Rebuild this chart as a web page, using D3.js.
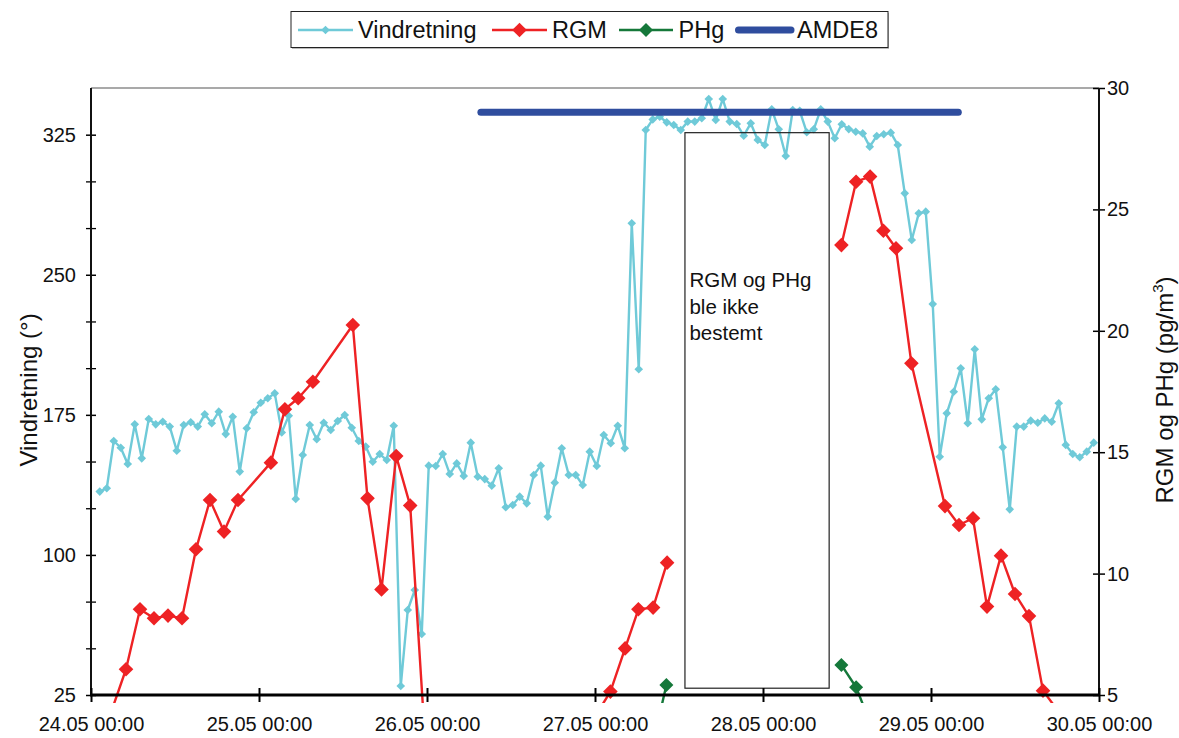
<!DOCTYPE html>
<html><head><meta charset="utf-8">
<script src="https://cdn.jsdelivr.net/npm/d3@7"></script>
<style>
body{margin:0;background:#fff;}
svg{display:block;font-family:"Liberation Sans",Arial,sans-serif;}
</style>
</head><body>
<svg id="c" width="1179" height="738"></svg>
<script>
// ---------- data ----------
const xTickHours = [0, 24, 48, 72, 96, 120, 144];
const xTickLabels = ["24.05 00:00", "25.05 00:00", "26.05 00:00", "27.05 00:00", "28.05 00:00", "29.05 00:00", "30.05 00:00"];
const leftTicks = [25, 100, 175, 250, 325];
const leftMinorTicks = [50, 75, 125, 150, 200, 225, 275, 300];
const rightTicks = [5, 10, 15, 20, 25, 30];

// Vindretning: hourly values, first one at 24.05 01:15
const vindStartHour = 1.25;
const vindValues = [
  133.9, 135.7, 161.0, 157.4, 148.7, 169.9, 151.7, 172.8, 169.9, 171.3,
  168.7, 155.8, 169.6, 171.0, 168.7, 175.3, 170.5, 176.7, 164.7, 174.0,
  144.6, 167.8, 176.4, 181.5, 183.9, 186.5, 165.6, 174.5, 130.0, 153.5,
  169.6, 161.9, 170.8, 166.9, 171.7, 174.9, 168.1, 161.0, 158.0, 149.9,
  154.0, 150.8, 169.2, 29.8, 70.5, 81.2, 57.7, 147.8, 147.6, 154.0,
  143.3, 149.0, 142.3, 160.1, 141.9, 140.6, 137.1, 146.4, 125.5, 126.7,
  131.2, 127.6, 142.8, 147.8, 120.5, 138.7, 157.1, 142.8, 142.8, 137.4,
  155.3, 147.6, 164.2, 159.8, 169.2, 157.1, 277.6, 199.4, 327.5, 333.2,
  334.6, 331.6, 330.2, 327.5, 332.0, 332.0, 333.8, 344.1, 332.9, 344.1,
  332.0, 330.7, 324.5, 331.1, 322.2, 319.5, 338.6, 327.9, 313.6, 338.2,
  337.8, 326.3, 327.9, 338.6, 332.0, 323.1, 330.6, 328.0, 326.6, 325.7,
  318.6, 324.3, 325.2, 326.1, 319.5, 293.6, 268.6, 282.9, 283.8, 234.3,
  152.6, 175.8, 187.4, 199.9, 170.5, 210.1, 172.6, 183.9, 188.7, 157.6,
  124.4, 168.7, 168.7, 171.9, 170.8, 173.1, 171.3, 181.2, 158.9, 154.0,
  152.3, 155.3, 160.1
];

// RGM (pg/m3), hours after 24.05 00:00; null = no measurement
const rgmHours = [3.0, 5.0, 7.0, 9.0, 11.0, 13.0, 15.0, 17.0, 19.0, 21.0,
  25.7, 27.7, 29.6, 31.7, 37.4, 39.5, 41.5, 43.6, 45.6, 47.6,
  60.0,
  72.2, 74.2, 76.3, 78.2, 80.3, 82.3,
  95.0,
  107.2, 109.3, 111.3, 113.2, 115.0, 117.2, 122.0, 124.0, 126.0, 128.0,
  130.0, 132.0, 134.0, 136.0, 138.0];
const rgmValues = [4.4, 6.06, 8.53, 8.16, 8.27, 8.16, 11.0, 13.03, 11.73, 13.03,
  14.57, 16.77, 17.22, 17.9, 20.24, 13.1, 9.35, 14.84, 12.8, 3.7,
  null,
  4.2, 5.14, 6.92, 8.53, 8.6, 10.45,
  null,
  23.53, 26.14, 26.35, 24.12, 23.4, 18.66, 12.78, 12.0, 12.28, 8.64,
  10.74, 9.16, 8.25, 5.18, 4.4];

// PHg (pg/m3)
const phgHours = [80.2, 82.2, 95.0, 107.2, 109.3, 111.3];
const phgValues = [2.9, 5.41, null, 6.24, 5.32, 3.86];

// AMDE8 campaign period
const amdeHours = [55.7, 123.9];
const amdeValues = [29, 29];

const seriesNames = ["Vindretning", "RGM", "PHg", "AMDE8"];
const noteLines = ["RGM og PHg", "ble ikke", "bestemt"];

// ---------- drawing ----------
const svg = d3.select("#c");
const L = 91, R = 1099, T = 88, B = 695;
const x = d3.scaleLinear([0, 144], [L, R]);
const yL = d3.scaleLinear([25, 350], [B, T]);
const yR = d3.scaleLinear([5, 30], [B, T]);

const cWind = "#6fcad8", cRgm = "#ee2224", cPhg = "#15783a", cAmde = "#2f4d9e";

svg.append("defs").append("clipPath").attr("id", "clip")
  .append("rect").attr("x", L).attr("y", T - 6).attr("width", R - L).attr("height", B - T + 14);

// top border
svg.append("line").attr("x1", L).attr("x2", R).attr("y1", T).attr("y2", T)
  .attr("stroke", "#8c8c8c").attr("stroke-width", 1.5);

const diamond = r => `M0,${-r}L${r},0L0,${r}L${-r},0Z`;

const plot = svg.append("g");

function drawSeries(hours, vals, yScale, color, lw, mr) {
  const pts = hours.map((h, i) => ({ h, v: vals[i] }));
  const line = d3.line().defined(d => d.v != null)
    .x(d => x(d.h)).y(d => yScale(d.v));
  plot.append("path").datum(pts).attr("clip-path", "url(#clip)")
    .attr("fill", "none").attr("stroke", color).attr("stroke-width", lw)
    .attr("stroke-linejoin", "round").attr("d", line);
  const [lo, hi] = yScale.domain();
  plot.append("g").selectAll("path")
    .data(pts.filter(d => d.v != null && d.v >= lo && d.v <= hi))
    .join("path")
    .attr("transform", d => `translate(${x(d.h)},${yScale(d.v)})`)
    .attr("d", diamond(mr)).attr("fill", color);
}

const vindHours = vindValues.map((v, i) => vindStartHour + i);
drawSeries(vindHours, vindValues, yL, cWind, 2.4, 4.3);
drawSeries(rgmHours, rgmValues, yR, cRgm, 2.4, 7.3);
drawSeries(phgHours, phgValues, yR, cPhg, 2.4, 7.0);

plot.append("path").datum(amdeHours.map((h, i) => ({ h, v: amdeValues[i] })))
  .attr("fill", "none").attr("stroke", cAmde).attr("stroke-width", 7)
  .attr("stroke-linecap", "round")
  .attr("d", d3.line().x(d => x(d.h)).y(d => yR(d.v)));

// annotation box
const noteX0 = x(84.85), noteX1 = x(105.45);
const noteY0 = yR(28.16), noteY1 = yR(5.28);
svg.append("rect").attr("x", noteX0).attr("y", noteY0)
  .attr("width", noteX1 - noteX0).attr("height", noteY1 - noteY0)
  .attr("fill", "none").attr("stroke", "#222").attr("stroke-width", 1.2);
svg.append("g").selectAll("text").data(noteLines).join("text")
  .attr("x", noteX0 + 4.5).attr("y", (d, i) => 287 + i * 26.5)
  .attr("font-size", 20.5).attr("fill", "#111").text(d => d);

// axes
function crossTicks(g, inner, outer) {
  g.selectAll(".tick line").attr("stroke", "#000").attr("stroke-width", 1.5);
}
// left axis
const gl = svg.append("g").attr("transform", `translate(${L},0)`);
gl.call(d3.axisLeft(yL).tickValues(leftMinorTicks).tickSize(0).tickFormat(""));
gl.selectAll(".tick line").attr("x1", -5).attr("x2", 5).attr("stroke", "#000").attr("stroke-width", 1.3);
const gl2 = svg.append("g").attr("transform", `translate(${L},0)`);
gl2.call(d3.axisLeft(yL).tickValues(leftTicks).tickSize(0).tickPadding(15));
gl2.selectAll(".tick line").attr("x1", -5).attr("x2", 5).attr("stroke", "#000").attr("stroke-width", 1.5);
gl2.selectAll(".tick text").attr("font-size", 20).attr("font-family", "Liberation Sans, Arial, sans-serif").attr("fill", "#111");
[gl, gl2].forEach(g => g.select(".domain").remove());
svg.append("line").attr("x1", L).attr("x2", L).attr("y1", T).attr("y2", B + 1)
  .attr("stroke", "#111").attr("stroke-width", 2);

// right axis
const gr = svg.append("g").attr("transform", `translate(${R},0)`);
gr.call(d3.axisRight(yR).tickValues(rightTicks).tickSize(0).tickPadding(8));
gr.select(".domain").remove();
gr.selectAll(".tick line").attr("x1", -6).attr("x2", 6).attr("stroke", "#000").attr("stroke-width", 1.5);
gr.selectAll(".tick text").attr("font-size", 20).attr("font-family", "Liberation Sans, Arial, sans-serif").attr("fill", "#111");
svg.append("line").attr("x1", R).attr("x2", R).attr("y1", T).attr("y2", B + 1)
  .attr("stroke", "#111").attr("stroke-width", 2);

// bottom axis
const gb = svg.append("g").attr("transform", `translate(0,${B})`);
gb.call(d3.axisBottom(x).tickValues(xTickHours).tickSize(0).tickPadding(22)
  .tickFormat((d, i) => xTickLabels[i]));
gb.select(".domain").remove();
gb.selectAll(".tick line").attr("y1", -7).attr("y2", 7).attr("stroke", "#000").attr("stroke-width", 2);
gb.selectAll(".tick text").attr("font-size", 20).attr("font-family", "Liberation Sans, Arial, sans-serif").attr("fill", "#111");
svg.append("line").attr("x1", L - 1).attr("x2", R + 1).attr("y1", B).attr("y2", B)
  .attr("stroke", "#000").attr("stroke-width", 3);

// axis titles
svg.append("text").attr("transform", "translate(37,390) rotate(-90)")
  .attr("text-anchor", "middle").attr("font-size", 24).attr("fill", "#111")
  .text("Vindretning (°)");
const rt = svg.append("text").attr("transform", "translate(1173,390) rotate(-90)")
  .attr("text-anchor", "middle").attr("font-size", 24).attr("fill", "#111");
rt.append("tspan").text("RGM og PHg (pg/m");
rt.append("tspan").attr("font-size", 15).attr("dy", -10).text("3");
rt.append("tspan").attr("dy", 10).text(")");

// legend
const lg = svg.append("g");
lg.append("rect").attr("x", 292).attr("y", 13).attr("width", 597).attr("height", 36).attr("fill", "#bbb");
lg.append("rect").attr("x", 291).attr("y", 11.5).attr("width", 597).attr("height", 36)
  .attr("fill", "#fff").attr("stroke", "#222").attr("stroke-width", 1);
const legItems = [
  { name: seriesNames[0], x0: 298, x1: 353, tx: 358, color: cWind, r: 4.3, w: 2.4 },
  { name: seriesNames[1], x0: 492, x1: 547, tx: 552, color: cRgm, r: 7.3, w: 2.4 },
  { name: seriesNames[2], x0: 619, x1: 673, tx: 678.5, color: cPhg, r: 7.0, w: 2.4 },
  { name: seriesNames[3], x0: 738.5, x1: 791, tx: 797, color: cAmde, r: 0, w: 7 }
];
legItems.forEach(it => {
  lg.append("line").attr("x1", it.x0).attr("x2", it.x1).attr("y1", 30).attr("y2", 30)
    .attr("stroke", it.color).attr("stroke-width", it.w)
    .attr("stroke-linecap", it.r ? "butt" : "round");
  if (it.r) lg.append("path").attr("transform", `translate(${(it.x0 + it.x1) / 2},30)`)
    .attr("d", diamond(it.r)).attr("fill", it.color);
  lg.append("text").attr("x", it.tx).attr("y", 37.5).attr("font-size", 23.5).attr("fill", "#111").text(it.name);
});
</script>
</body></html>
